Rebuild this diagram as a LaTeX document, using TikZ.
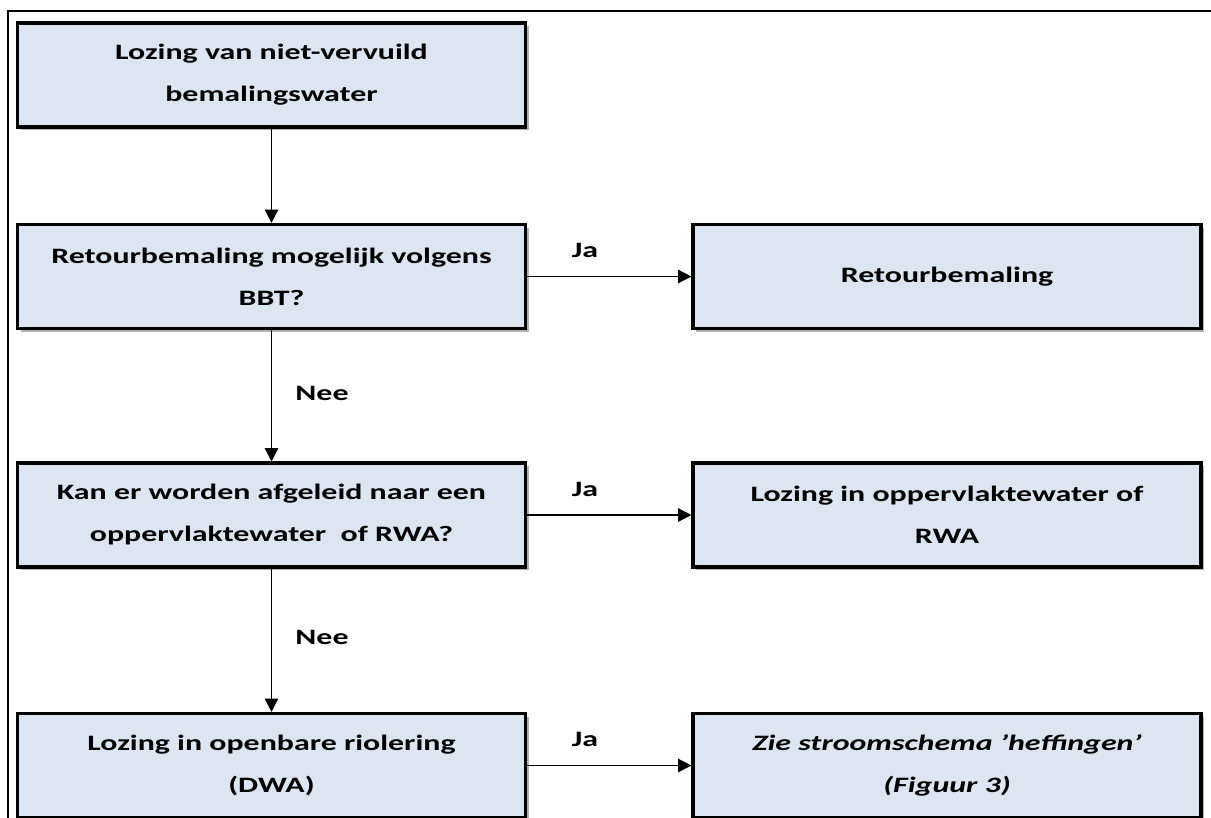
\documentclass[tikz,border=0pt]{standalone}
\usepackage{fontspec}
\setmainfont{Carlito}[FakeStretch=1.45]
\usetikzlibrary{arrows.meta,shadows}
\definecolor{boxfill}{HTML}{DCE6F2}
\begin{document}
\begin{tikzpicture}[x=0.75pt,y=-0.75pt,
  box/.style={draw=black, line width=2.3pt, fill=boxfill, minimum width=381pt, minimum height=78pt,
    inner sep=0pt, align=center, font=\fontsize{16.5pt}{31.5pt}\selectfont\bfseries,
    drop shadow={shadow xshift=2.5pt, shadow yshift=-2.5pt, fill=black, opacity=0.3}},
  arr/.style={line width=1pt, -{Triangle[length=10pt,width=10pt]}},
  lbl/.style={font=\fontsize{16.5pt}{20pt}\selectfont\bfseries, inner sep=0pt}]
\useasboundingbox (0,0) rectangle (1211,818);
\begin{scope}
  \clip (0,0) rectangle (1211,818);
  \draw[line width=1.5pt] (7.5,830) -- (7.5,10.5) -- (1220,10.5);
\end{scope}
\node[box] (b1) at (271.5,75) {Lozing van niet-vervuild\\bemalingswater};
\node[box] (b2) at (271.5,276.5) {Retourbemaling mogelijk volgens\\BBT?};
\node[box] (r2) at (947,276.5) {Retourbemaling};
\node[box] (b3) at (271.5,515) {Kan er worden afgeleid naar een\\oppervlaktewater\ \ of RWA?};
\node[box] (r3) at (947,515) {Lozing in oppervlaktewater of\\RWA};
\node[box] (b4) at (271.5,765.5) {Lozing in openbare riolering\\(DWA)};
\node[box, font=\fontsize{16.5pt}{31.5pt}\selectfont\bfseries\itshape] (r4) at (947,765.5) {Zie stroomschema \char"0027heffingen\char"0027\\(Figuur 3)};
\draw[arr] (b1) -- (b2);
\draw[arr] (b2) -- (r2);
\draw[arr] (b2) -- (b3);
\draw[arr] (b3) -- (r3);
\draw[arr] (b3) -- (b4);
\draw[arr] (b4) -- (r4);
\node[lbl] (ja1) at (585,250) {Ja};
\node[lbl] (ja2) at (585,489) {Ja};
\node[lbl] (ja3) at (585,739) {Ja};
\node[lbl] (nee1) at (322,393) {Nee};
\node[lbl] (nee2) at (322,637) {Nee};
\end{tikzpicture}
\end{document}
